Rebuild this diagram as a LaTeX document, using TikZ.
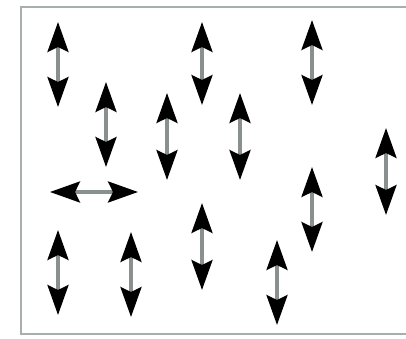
\documentclass[tikz,border=0pt]{standalone}
\usepackage{xcolor}
\usetikzlibrary{arrows.meta}
\definecolor{framegray}{HTML}{A8ADAD}
\definecolor{shaftgray}{HTML}{8A8F8F}

\begin{document}
\begin{tikzpicture}[
    x=1pt, y=-1pt,
    frame/.style={draw=framegray, line width=2.5pt},
    spin/.style={draw=shaftgray, line width=3.5pt,
        {Stealth[length=30pt, width=21pt, inset=5pt, color=black]}-{Stealth[length=30pt, width=21pt, inset=5pt, color=black]}}
]
\useasboundingbox (0,0) rectangle (406,339);
\draw[frame] (406,7) -- (21,7) -- (21,334) -- (406,334);

% vertical arrows: x, top, bottom
\foreach \px/\ptop/\pbot in {58/22/107, 202/22/105, 312/20/105,
        106/82/167, 167/93/180, 240/93/180, 386/128/215,
        312/167/252, 202/203/290, 58/230/315, 131/232/317, 277/240/325}
    \draw[spin] (\px,\pbot) -- (\px,\ptop);

% the one horizontal arrow
\draw[spin] (50,192) -- (138,192);
\end{tikzpicture}
\end{document}
